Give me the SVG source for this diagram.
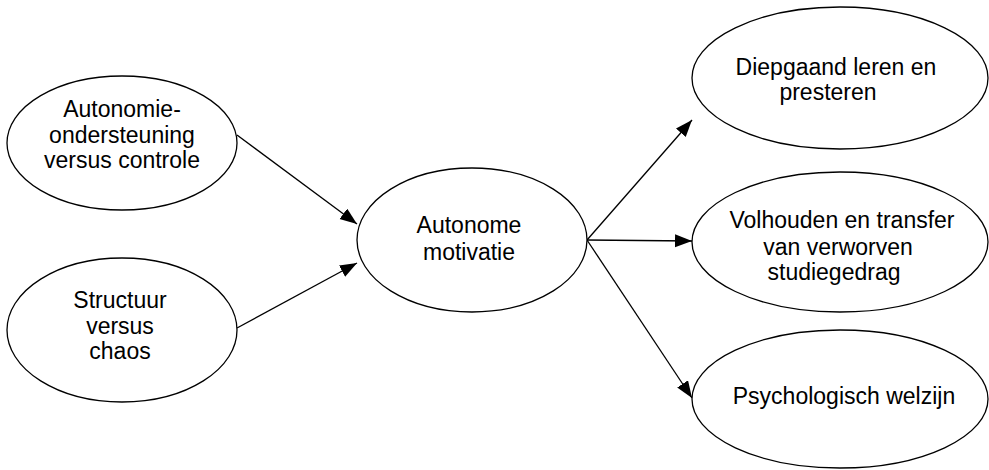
<svg xmlns="http://www.w3.org/2000/svg" width="989" height="470" viewBox="0 0 989 470">
<style>
.node ellipse{fill:#fff;stroke:#000;stroke-width:1.3}
.node text{font-family:"Liberation Sans",Arial,sans-serif;font-size:23px;fill:#000;text-anchor:middle}
.edges line{stroke:#000;stroke-width:1.3;marker-end:url(#arr)}
</style>
<defs>
<marker id="arr" markerUnits="userSpaceOnUse" markerWidth="20" markerHeight="14" refX="17" refY="6.5" orient="auto">
<path d="M0,0 L17,6.5 L0,13 z" fill="#000"/>
</marker>
</defs>
<rect width="989" height="470" fill="#fff"/>
<g class="edges">
<line x1="237" y1="135" x2="357" y2="224"/>
<line x1="237" y1="328" x2="357" y2="263"/>
<line x1="587" y1="240" x2="692" y2="120"/>
<line x1="587" y1="240" x2="692" y2="241"/>
<line x1="587" y1="240" x2="692" y2="398"/>
</g>
<g id="n1" class="node">
<ellipse cx="122" cy="143" rx="115" ry="67"/>
<text x="122" y="117">Autonomie-</text>
<text x="122" y="143">ondersteuning</text>
<text x="122" y="168">versus controle</text>
</g>
<g id="n2" class="node">
<ellipse cx="122" cy="330" rx="115" ry="72"/>
<text x="120" y="308">Structuur</text>
<text x="120" y="334">versus</text>
<text x="120" y="359">chaos</text>
</g>
<g id="n3" class="node">
<ellipse cx="472" cy="240" rx="115" ry="72"/>
<text x="469" y="233">Autonome</text>
<text x="469" y="260">motivatie</text>
</g>
<g id="n4" class="node">
<ellipse cx="840" cy="78" rx="148" ry="71"/>
<text x="836" y="75">Diepgaand leren en</text>
<text x="828" y="100">presteren</text>
</g>
<g id="n5" class="node">
<ellipse cx="840" cy="242" rx="148" ry="70"/>
<text x="842" y="228">Volhouden en transfer</text>
<text x="838" y="255">van verworven</text>
<text x="834" y="280">studiegedrag</text>
</g>
<g id="n6" class="node">
<ellipse cx="840" cy="399" rx="148" ry="69"/>
<text x="844" y="404">Psychologisch welzijn</text>
</g>
</svg>
